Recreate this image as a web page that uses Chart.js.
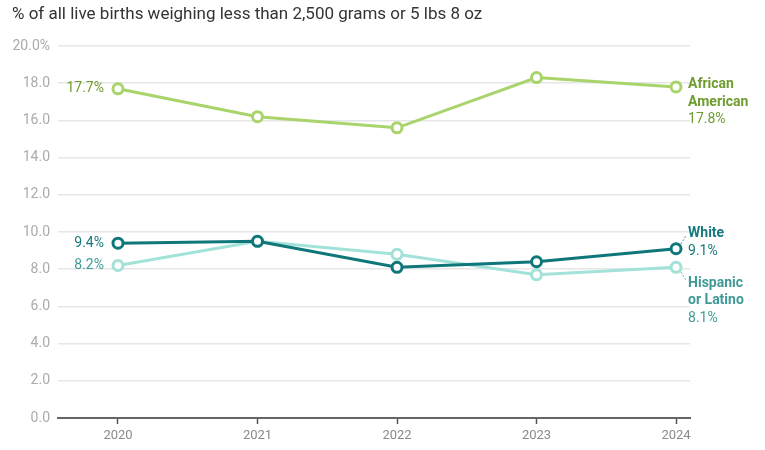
<!DOCTYPE html>
<html>
<head>
<meta charset="utf-8">
<script src="https://cdn.jsdelivr.net/npm/chart.js@4/dist/chart.umd.min.js"></script>
<style>
  html, body { margin: 0; padding: 0; background: #fff; }
  #wrap { width: 765px; height: 450px; position: relative; }
</style>
</head>
<body>
<div id="wrap"><canvas id="c"></canvas></div>
<script>
const years = [2020, 2021, 2022, 2023, 2024];
const africanAmerican = [17.7, 16.2, 15.6, 18.3, 17.8];
const white = [9.4, 9.5, 8.1, 8.4, 9.1];
const hispanic = [8.2, 9.5, 8.8, 7.7, 8.1];
const yTicks = [0, 2, 4, 6, 8, 10, 12, 14, 16, 18, 20];
const titleText = '% of all live births weighing less than 2,500 grams or 5 lbs 8 oz';

const C_AA = '#a9d46b', C_AA_TXT = '#6e9c2e';
const C_W = '#0f767a', C_W_TXT = '#15797d';
const C_H = '#a2e2d8', C_H_TXT = '#3f9a97';
const FONT = 'Roboto, "Noto Sans", sans-serif';

function pts(vals) { return years.map((y, i) => ({ x: y, y: vals[i] })); }

const labelPlugin = {
  id: 'labels',
  afterDatasetsDraw(chart) {
    const ctx = chart.ctx;
    const xs = chart.scales.x, ys = chart.scales.y;
    ctx.save();
    // title
    ctx.font = '17px ' + FONT;
    ctx.fillStyle = '#333';
    ctx.textAlign = 'left';
    ctx.textBaseline = 'middle';
    ctx.fillText(titleText, 12, 15);

    // left labels
    const x0 = xs.getPixelForValue(years[0]) - 14;
    ctx.font = '14px ' + FONT;
    ctx.textAlign = 'right';
    ctx.fillStyle = C_AA_TXT;
    ctx.fillText(africanAmerican[0].toFixed(1) + '%', x0, ys.getPixelForValue(africanAmerican[0]));
    ctx.fillStyle = C_W_TXT;
    ctx.fillText(white[0].toFixed(1) + '%', x0, ys.getPixelForValue(white[0]));
    ctx.fillStyle = C_H_TXT;
    ctx.fillText(hispanic[0].toFixed(1) + '%', x0, ys.getPixelForValue(hispanic[0]));

    // right labels
    const last = years.length - 1;
    const xr = xs.getPixelForValue(years[last]) + 12;
    ctx.textAlign = 'left';
    const lh = 17.5;
    const bold = 'bold 14px ' + FONT, reg = '14px ' + FONT;

    let y = ys.getPixelForValue(africanAmerican[last]) - 2;
    ctx.fillStyle = C_AA_TXT;
    ctx.font = bold; ctx.fillText('African', xr, y);
    ctx.fillText('American', xr, y + lh);
    ctx.font = reg; ctx.fillText(africanAmerican[last].toFixed(1) + '%', xr, y + 2 * lh);

    const pw = ys.getPixelForValue(white[last]);
    const px = xs.getPixelForValue(years[last]);
    y = pw - 15;
    ctx.fillStyle = C_W_TXT;
    ctx.font = bold; ctx.fillText('White', xr, y);
    ctx.font = reg; ctx.fillText(white[last].toFixed(1) + '%', xr, y + lh);

    const ph = ys.getPixelForValue(hispanic[last]);
    y = ph + 16;
    ctx.fillStyle = C_H_TXT;
    ctx.font = bold; ctx.fillText('Hispanic', xr, y);
    ctx.fillText('or Latino', xr, y + lh);
    ctx.font = reg; ctx.fillText(hispanic[last].toFixed(1) + '%', xr, y + 2 * lh);

    // dotted leaders
    ctx.setLineDash([1.5, 2]);
    ctx.lineWidth = 1;
    ctx.strokeStyle = C_W_TXT;
    ctx.beginPath(); ctx.moveTo(px + 5, pw - 5); ctx.lineTo(px + 10, pw - 13); ctx.stroke();
    ctx.strokeStyle = C_H_TXT;
    ctx.beginPath(); ctx.moveTo(px + 5, ph + 5); ctx.lineTo(px + 10, ph + 13); ctx.stroke();
    ctx.restore();
  }
};

function ds(label, vals, color) {
  return {
    label, data: pts(vals), borderColor: color, backgroundColor: '#fff',
    borderWidth: 3, pointRadius: 5, pointBorderWidth: 3, pointBackgroundColor: '#fff',
    pointBorderColor: color, tension: 0, clip: false
  };
}

new Chart(document.getElementById('c'), {
  type: 'line',
  data: {
    datasets: [
      ds('White', white, C_W),
      ds('Hispanic or Latino', hispanic, C_H),
      ds('African American', africanAmerican, C_AA)
    ]
  },
  options: {
    responsive: true,
    maintainAspectRatio: false,
    animation: false,
    layout: { padding: { top: 46, right: 75, left: 0, bottom: 0 } },
    plugins: { legend: { display: false }, tooltip: { enabled: false } },
    scales: {
      x: {
        type: 'linear',
        min: 2019.57,
        max: 2024.1,
        afterBuildTicks: s => { s.ticks = years.map(v => ({ value: v })); },
        afterFit: s => { s.height = 32; },
        ticks: {
          color: '#8a8a8a', font: { family: FONT, size: 13 }, padding: 4,
          callback: v => String(v), autoSkip: false, maxRotation: 0
        },
        grid: { drawOnChartArea: false, drawTicks: true, tickLength: 6, tickColor: '#555', tickWidth: 1.5 },
        border: { display: true, color: '#666', width: 2 }
      },
      y: {
        min: 0, max: 20,
        afterBuildTicks: s => { s.ticks = yTicks.map(v => ({ value: v })); },
        afterFit: s => { s.width = 58; },
        ticks: {
          color: '#ababab', font: { family: FONT, size: 14 }, padding: 8,
          callback: v => v === 20 ? v.toFixed(1) + '%' : v.toFixed(1)
        },
        grid: { color: '#e6e6e6', lineWidth: 1.5, drawTicks: false },
        border: { display: false }
      }
    }
  },
  plugins: [labelPlugin]
});
</script>
</body>
</html>
